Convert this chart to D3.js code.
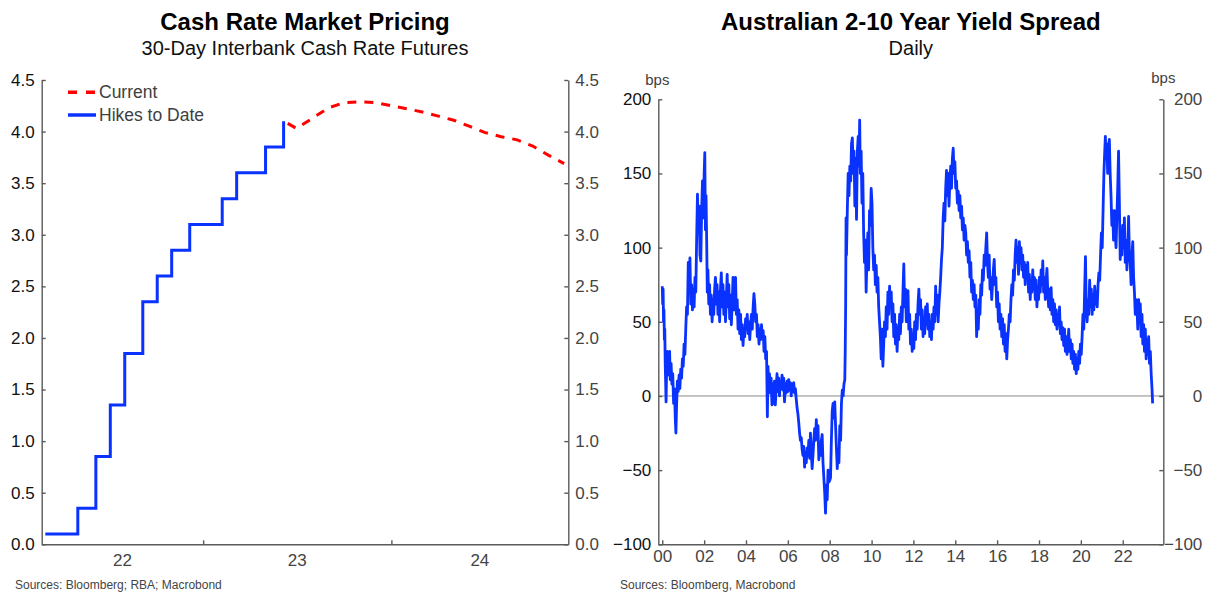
<!DOCTYPE html>
<html>
<head>
<meta charset="utf-8">
<script src="https://cdn.jsdelivr.net/npm/d3@7"></script>
<style>
body{margin:0;background:#fff;}
svg{font-family:"Liberation Sans",Arial,sans-serif;}
.axis path,.axis line{stroke:#5a5a5a;stroke-width:1.4;fill:none;}
.axis text{font-size:17px;font-family:"Liberation Sans",Arial,sans-serif;}
.axis.l text{fill:#111;}
.axis.r text{fill:#444;}
.title{font-size:24px;font-weight:bold;fill:#000;text-anchor:middle;}
.subtitle{font-size:20px;fill:#111;text-anchor:middle;}
.source{font-size:12px;fill:#444;}
</style>
</head>
<body>
<svg id="chart" width="1212" height="593"></svg>
<script>
// ---- left chart: cash rate
var hikeDates = ["2022-03-01","2022-05-03","2022-06-07","2022-07-05","2022-08-02","2022-09-06","2022-10-04",
                 "2022-11-01","2022-12-06","2023-02-07","2023-03-07","2023-05-02","2023-06-06"];
var hikeRates = [0.10,0.35,0.85,1.35,1.85,2.35,2.60,2.85,3.10,3.35,3.60,3.85,4.10];

var pricingDates = ["2023-06-14","2023-07-01","2023-08-01","2023-09-01","2023-10-01","2023-11-01","2023-12-01",
                    "2024-01-01","2024-02-01","2024-03-01","2024-04-01","2024-05-01","2024-06-01","2024-07-01",
                    "2024-08-01","2024-09-01","2024-10-01","2024-11-01","2024-12-01"];
var pricingRates = [4.08,4.03,4.13,4.23,4.28,4.29,4.28,4.25,4.22,4.19,4.15,4.11,4.05,3.99,3.95,3.92,3.86,3.77,3.69];

var rateTicks = [0,0.5,1,1.5,2,2.5,3,3.5,4,4.5];
var rateYears = [2022,2023,2024];
var rateDomain = ["2022-02-22","2024-12-09"];

// ---- right chart: 2-10 spread, [decimal year, bps]
var spreadDaily = [
[2000.00,74],[2000.02,62],[2000.04,72],[2000.06,50],[2000.08,58],[2000.10,38],[2000.12,45],[2000.14,22],[2000.16,10],[2000.18,-4],
[2000.20,12],[2000.23,30],[2000.26,18],[2000.29,26],[2000.32,14],[2000.35,30],[2000.38,11],[2000.42,22],[2000.46,8],[2000.50,15],
[2000.54,-5],[2000.58,5],[2000.62,-15],[2000.65,-25],[2000.68,-8],[2000.72,10],[2000.76,3],[2000.80,14],[2000.84,5],[2000.88,18],
[2000.92,12],[2000.96,25],
[2001.00,20],[2001.04,35],[2001.08,28],[2001.12,45],[2001.16,60],[2001.20,55],[2001.24,90],[2001.28,70],[2001.32,93],[2001.36,62],
[2001.40,75],[2001.44,58],[2001.48,72],[2001.52,60],[2001.56,80],[2001.60,70],[2001.64,105],[2001.68,136],[2001.72,110],[2001.76,128],
[2001.80,95],[2001.84,91],[2001.88,125],[2001.92,145],[2001.96,120],[2002.00,150],[2002.03,164],[2002.06,112],[2002.09,135],[2002.12,105],
[2002.15,70],[2002.18,85],[2002.22,62],[2002.26,75],[2002.30,55],[2002.34,68],[2002.38,50],[2002.42,65],[2002.46,55],[2002.50,72],
[2002.54,80],[2002.58,62],[2002.62,75],[2002.66,55],[2002.70,70],[2002.74,50],[2002.78,72],[2002.82,83],[2002.86,60],[2002.90,75],
[2002.94,55],[2002.98,70],[2003.02,50],[2003.06,65],[2003.10,82],[2003.14,60],[2003.18,75],[2003.22,52],[2003.26,68],[2003.30,48],
[2003.34,62],[2003.38,80],[2003.42,58],[2003.46,70],[2003.50,80],[2003.54,55],[2003.58,65],[2003.62,45],[2003.66,58],[2003.70,42],
[2003.74,55],[2003.78,38],[2003.82,48],[2003.86,34],[2003.90,45],[2003.94,40],[2003.98,52],[2004.02,45],[2004.06,55],[2004.10,42],
[2004.14,50],[2004.18,38],[2004.22,48],[2004.26,55],[2004.30,45],[2004.34,60],[2004.38,69],[2004.42,62],[2004.46,50],[2004.50,55],
[2004.54,40],[2004.58,48],[2004.62,35],[2004.66,45],[2004.70,38],[2004.74,48],[2004.78,40],[2004.82,44],[2004.86,30],[2004.90,40],
[2004.94,25],[2004.98,30],
[2005.02,-14],[2005.05,20],[2005.08,5],[2005.12,15],[2005.16,2],[2005.20,12],[2005.24,-6],[2005.28,8],[2005.32,-5],[2005.36,10],
[2005.40,-6],[2005.44,5],[2005.48,15],[2005.52,3],[2005.56,12],[2005.60,0],[2005.64,10],[2005.68,5],[2005.72,14],[2005.76,4],
[2005.80,12],[2005.84,-4],[2005.88,8],[2005.92,2],[2005.96,10],[2006.00,3],[2006.04,11],[2006.08,4],[2006.12,9],[2006.16,0],
[2006.20,8],[2006.24,3],[2006.28,9],[2006.32,2],[2006.36,5],
[2006.40,-2],[2006.44,-8],[2006.48,-12],[2006.52,-18],[2006.56,-25],[2006.60,-30],[2006.64,-28],[2006.68,-36],[2006.72,-40],[2006.76,-34],
[2006.80,-48],[2006.84,-38],[2006.88,-45],[2006.92,-35],[2006.96,-40],[2007.00,-30],[2007.04,-42],[2007.08,-25],[2007.12,-38],[2007.16,-49],
[2007.20,-40],[2007.24,-30],[2007.28,-22],[2007.32,-30],[2007.36,-16],[2007.40,-28],[2007.44,-20],[2007.48,-43],[2007.52,-32],[2007.56,-40],
[2007.60,-30],[2007.64,-26],[2007.68,-45],[2007.72,-55],[2007.76,-65],[2007.80,-79],[2007.84,-60],[2007.88,-70],[2007.92,-50],[2007.96,-58],
[2008.00,-57],[2008.04,-55],[2008.08,-30],[2008.12,-10],[2008.16,-5],[2008.20,-15],[2008.24,-4],[2008.28,-20],[2008.32,-35],[2008.36,-49],
[2008.40,-38],[2008.44,-45],[2008.48,-20],[2008.52,-30],[2008.56,-5],[2008.60,4],[2008.64,0],[2008.68,8],[2008.72,11],
[2008.74,30],[2008.76,60],[2008.78,120],[2008.80,95],[2008.84,125],[2008.88,150],[2008.92,135],[2008.96,155],[2009.00,145],[2009.04,170],
[2009.08,174],[2009.12,150],[2009.16,165],[2009.20,128],[2009.24,160],[2009.28,119],[2009.32,165],[2009.36,175],[2009.40,155],[2009.43,186],
[2009.46,150],[2009.50,165],[2009.54,130],[2009.58,150],[2009.62,110],[2009.66,90],[2009.70,105],[2009.74,70],[2009.78,95],[2009.82,110],
[2009.86,85],[2009.90,125],[2009.94,115],[2009.98,140],[2010.02,130],[2010.06,100],[2010.10,85],[2010.14,95],[2010.18,75],[2010.22,88],
[2010.26,70],[2010.30,80],[2010.34,60],[2010.38,50],[2010.42,40],
[2010.46,25],[2010.50,45],[2010.54,20],[2010.58,35],[2010.62,50],[2010.66,40],[2010.70,60],[2010.74,45],[2010.78,70],[2010.82,55],
[2010.86,74],[2010.90,60],[2010.94,70],[2010.98,50],[2011.02,62],[2011.06,40],[2011.10,55],[2011.14,35],[2011.18,48],[2011.22,30],
[2011.26,45],[2011.30,38],[2011.34,55],[2011.38,42],[2011.42,60],[2011.46,50],[2011.50,70],[2011.54,89],[2011.58,60],[2011.62,72],
[2011.66,50],[2011.70,65],[2011.74,71],[2011.78,45],[2011.82,55],[2011.86,35],[2011.90,45],[2011.94,30],[2011.98,40],[2012.02,32],
[2012.06,50],[2012.10,38],[2012.14,55],[2012.18,45],[2012.22,62],[2012.26,72],[2012.30,55],[2012.34,65],[2012.38,45],[2012.42,58],
[2012.46,40],[2012.50,52],[2012.54,42],[2012.58,60],[2012.62,48],[2012.66,62],[2012.70,45],[2012.74,55],[2012.78,40],[2012.82,50],
[2012.86,38],[2012.90,55],[2012.94,45],[2012.98,60],[2013.02,50],[2013.06,74],[2013.10,55],[2013.14,68],[2013.18,50],[2013.22,62],
[2013.26,70],
[2013.30,80],[2013.34,92],[2013.38,100],[2013.42,120],[2013.46,130],[2013.50,118],[2013.54,140],[2013.58,152],[2013.62,135],[2013.66,150],
[2013.70,128],[2013.74,145],[2013.78,155],[2013.82,140],[2013.86,160],[2013.90,167],[2013.94,150],[2013.98,158],[2014.02,140],[2014.06,145],
[2014.10,130],[2014.14,138],[2014.18,125],[2014.22,135],[2014.26,120],[2014.30,128],[2014.34,112],[2014.38,120],[2014.42,105],[2014.46,115],
[2014.50,110],[2014.54,95],[2014.58,104],[2014.62,90],[2014.66,98],[2014.70,80],[2014.74,90],[2014.78,70],[2014.82,78],[2014.86,65],
[2014.90,75],[2014.94,60],[2014.98,68],
[2015.02,40],[2015.06,55],[2015.10,45],[2015.14,65],[2015.18,55],[2015.22,75],[2015.26,68],[2015.30,85],[2015.34,78],[2015.38,95],
[2015.42,88],[2015.46,100],[2015.50,110],[2015.54,90],[2015.58,80],[2015.62,95],[2015.66,72],[2015.70,80],[2015.74,65],[2015.78,75],
[2015.82,85],[2015.86,92],[2015.90,75],[2015.94,80],[2015.98,60],[2016.02,70],[2016.06,50],[2016.10,62],[2016.14,45],[2016.18,55],
[2016.22,40],[2016.26,52],[2016.30,35],[2016.34,48],[2016.38,30],[2016.42,42],[2016.46,25],[2016.50,38],[2016.54,45],[2016.58,55],
[2016.62,50],[2016.66,65],[2016.70,75],[2016.74,68],[2016.78,85],[2016.82,78],[2016.86,95],[2016.90,105],[2016.94,90],[2016.98,100],
[2017.02,82],[2017.06,104],[2017.10,92],[2017.14,100],[2017.18,85],[2017.22,95],[2017.26,80],[2017.30,90],[2017.34,75],[2017.38,88],
[2017.42,80],[2017.46,90],[2017.50,70],[2017.54,82],[2017.58,65],[2017.62,78],[2017.66,70],[2017.70,85],[2017.74,72],[2017.78,80],
[2017.82,65],[2017.86,78],[2017.90,60],[2017.94,72],[2017.98,65],[2018.02,80],[2018.06,70],[2018.10,85],[2018.14,75],[2018.18,91],
[2018.22,70],[2018.26,80],[2018.30,65],[2018.34,78],[2018.38,86],[2018.42,70],[2018.46,60],[2018.50,72],[2018.54,58],[2018.58,73],
[2018.62,55],[2018.66,65],[2018.70,50],[2018.74,62],[2018.78,48],[2018.82,58],[2018.86,45],[2018.90,55],[2018.94,48],[2018.98,60],
[2019.02,42],[2019.06,50],[2019.10,38],[2019.14,46],[2019.18,34],[2019.22,45],[2019.26,30],[2019.30,40],[2019.34,28],[2019.38,36],
[2019.42,45],[2019.46,30],[2019.50,38],[2019.54,25],[2019.58,35],[2019.62,22],[2019.66,30],[2019.70,18],[2019.74,28],[2019.78,15],
[2019.82,25],[2019.86,18],[2019.90,30],[2019.94,22],[2019.98,35],[2020.02,28],[2020.06,40],[2020.10,55],[2020.14,45],[2020.18,70],
[2020.22,94],[2020.26,60],[2020.30,50],[2020.34,65],[2020.38,55],[2020.42,78],[2020.46,60],[2020.50,72],[2020.54,55],[2020.58,68],
[2020.62,58],[2020.66,74],[2020.70,62],[2020.74,70],[2020.78,60],[2020.82,75],[2020.86,83],[2020.90,78],
[2020.94,95],[2020.98,110],[2021.02,100],[2021.06,125],[2021.10,150],[2021.14,165],[2021.17,175],[2021.20,160],[2021.24,170],[2021.28,150],
[2021.32,168],[2021.36,173],[2021.40,150],[2021.44,135],[2021.48,115],[2021.52,125],[2021.56,105],[2021.60,125],[2021.64,110],[2021.68,100],
[2021.72,120],[2021.76,140],[2021.80,165],[2021.84,130],[2021.88,92],[2021.92,110],[2021.96,95],[2022.00,115],[2022.04,100],[2022.08,120],
[2022.12,90],[2022.16,105],[2022.20,85],[2022.24,100],[2022.28,121],[2022.32,95],[2022.36,89],[2022.40,75],[2022.44,95],[2022.48,104],
[2022.52,80],[2022.56,70],[2022.60,55],[2022.64,65],[2022.68,60],[2022.72,45],[2022.76,65],[2022.80,50],[2022.84,62],[2022.88,40],
[2022.92,55],[2022.96,35],[2023.00,48],[2023.04,30],[2023.08,45],[2023.12,25],[2023.16,38],[2023.20,28],[2023.24,40],[2023.28,22],
[2023.32,30],[2023.36,15],[2023.40,5],[2023.43,-5]
];
var spreadTicks = [-100,-50,0,50,100,150,200];
var spreadYearTicks = [2000,2002,2004,2006,2008,2010,2012,2014,2016,2018,2020,2022];
var spreadDomain = [1999.81,2023.94];

var BLUE = "#0a32ff", RED = "#ff0000";

var parseDate = d3.timeParse("%Y-%m-%d");
function decYear(y){
	var yr = Math.floor(y);
	var a = new Date(yr,0,1), b = new Date(yr+1,0,1);
	return new Date(a.getTime() + (y-yr)*(b-a));
}

var svg = d3.select("#chart");

/* ===== left panel ===== */
var L = {left:41.7, right:568.3, top:80, bottom:544.3};
var xL = d3.scaleTime().domain(rateDomain.map(parseDate)).range([L.left,L.right]);
var yL = d3.scaleLinear().domain([0,4.5]).range([L.bottom,L.top]);

svg.append("text").attr("class","title").attr("x",(L.left+L.right)/2).attr("y",30).text("Cash Rate Market Pricing");
svg.append("text").attr("class","subtitle").attr("x",(L.left+L.right)/2).attr("y",55).text("30-Day Interbank Cash Rate Futures");

svg.append("g").attr("class","axis l")
	.attr("transform","translate("+L.left+",0)")
	.call(d3.axisLeft(yL).tickValues(rateTicks).tickFormat(d3.format(".1f")).tickSizeInner(-4).tickSizeOuter(0).tickPadding(7));
svg.append("g").attr("class","axis r")
	.attr("transform","translate("+L.right+",0)")
	.call(d3.axisRight(yL).tickValues(rateTicks).tickFormat(d3.format(".1f")).tickSizeInner(-4).tickSizeOuter(0).tickPadding(7));

var yearStarts = rateYears.slice(1).map(function(y){ return new Date(y,0,1); });
svg.append("g").attr("class","axis r")
	.attr("transform","translate(0,"+L.bottom+")")
	.call(d3.axisBottom(xL).tickValues(yearStarts).tickFormat("").tickSizeInner(-4).tickSizeOuter(0));

// year labels sit in the middle of the visible part of each year
svg.append("g").selectAll("text").data(rateYears).enter().append("text")
	.attr("x",function(y){
		var a = Math.max(L.left, xL(new Date(y,0,1)));
		var b = Math.min(L.right, xL(new Date(y+1,0,1)));
		return (a+b)/2;
	})
	.attr("y",566)
	.attr("text-anchor","middle")
	.style("font-size","17px").style("fill","#444")
	.text(function(y){ return String(y).slice(2); });

var hikes = hikeDates.map(function(d,i){ return {date:parseDate(d), v:hikeRates[i]}; });
var pricing = pricingDates.map(function(d,i){ return {date:parseDate(d), v:pricingRates[i]}; });

svg.append("path").datum(hikes)
	.attr("fill","none").attr("stroke",BLUE).attr("stroke-width",3)
	.attr("d",d3.line().curve(d3.curveStepAfter).x(function(d){ return xL(d.date); }).y(function(d){ return yL(d.v); }));
svg.append("path").datum(pricing)
	.attr("fill","none").attr("stroke",RED).attr("stroke-width",3).attr("stroke-dasharray","9,8")
	.attr("d",d3.line().x(function(d){ return xL(d.date); }).y(function(d){ return yL(d.v); }));

// legend
var legend = [{name:"Current",color:RED,dash:"9,9",y:92.3},{name:"Hikes to Date",color:BLUE,dash:null,y:115}];
var lg = svg.append("g").selectAll("g").data(legend).enter().append("g");
lg.append("line").attr("x1",68).attr("x2",96).attr("y1",function(d){return d.y;}).attr("y2",function(d){return d.y;})
	.attr("stroke",function(d){return d.color;}).attr("stroke-width",3.5)
	.attr("stroke-dasharray",function(d){return d.dash;});
lg.append("text").attr("x",99).attr("y",function(d){return d.y+6;})
	.style("font-size","17.5px").style("fill","#404040")
	.text(function(d){return d.name;});

svg.append("text").attr("class","source").attr("x",15).attr("y",589).text("Sources: Bloomberg; RBA; Macrobond");

/* ===== right panel ===== */
var R = {left:658.3, right:1163.3, top:99.3, bottom:544.3};
var xR = d3.scaleTime().domain(spreadDomain.map(decYear)).range([R.left,R.right]);
var yR = d3.scaleLinear().domain([-100,200]).range([R.bottom,R.top]);

svg.append("text").attr("class","title").attr("x",(R.left+R.right)/2).attr("y",30).text("Australian 2-10 Year Yield Spread");
svg.append("text").attr("class","subtitle").attr("x",(R.left+R.right)/2).attr("y",55).text("Daily");

svg.append("text").attr("x",R.left-1).attr("y",85).attr("text-anchor","middle").style("font-size","15px").style("fill","#404040").text("bps");
svg.append("text").attr("x",R.right).attr("y",83).attr("text-anchor","middle").style("font-size","15px").style("fill","#404040").text("bps");

svg.append("line").attr("x1",R.left).attr("x2",R.right).attr("y1",yR(0)).attr("y2",yR(0))
	.attr("stroke","#8a8a8a").attr("stroke-width",1);

svg.append("g").attr("class","axis l")
	.attr("transform","translate("+R.left+",0)")
	.call(d3.axisLeft(yR).tickValues(spreadTicks).tickSizeInner(-4).tickSizeOuter(0).tickPadding(7));
var rAxis = svg.append("g").attr("class","axis r")
	.attr("transform","translate("+R.right+",0)")
	.call(d3.axisRight(yR).tickValues(spreadTicks).tickSizeInner(-4).tickSizeOuter(0));
rAxis.selectAll("text").attr("text-anchor","end").attr("x",39);

svg.append("g").attr("class","axis r")
	.attr("transform","translate(0,"+R.bottom+")")
	.call(d3.axisBottom(xR).tickValues(spreadYearTicks.map(function(y){ return new Date(y,0,1); }))
		.tickFormat(d3.timeFormat("%y")).tickSizeInner(-4).tickSizeOuter(0).tickPadding(6));

svg.append("path").datum(spreadDaily)
	.attr("fill","none").attr("stroke",BLUE).attr("stroke-width",2.8).attr("stroke-linejoin","round")
	.attr("d",d3.line().x(function(d){ return xR(decYear(d[0])); }).y(function(d){ return yR(d[1]); }));

svg.append("text").attr("class","source").attr("x",620).attr("y",589).text("Sources: Bloomberg, Macrobond");
</script>
</body>
</html>
